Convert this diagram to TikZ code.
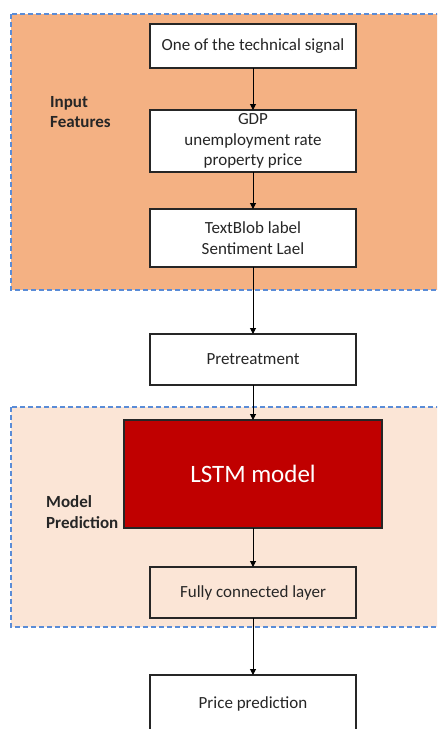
\documentclass[tikz,border=0pt]{standalone}
\usepackage{fontspec}
\setmainfont{Carlito}
\usepackage{xcolor}
\usepackage{tikz}
\usetikzlibrary{positioning,arrows.meta}
\definecolor{inputfill}{RGB}{244,177,131}
\definecolor{modelfill}{RGB}{251,229,214}
\definecolor{lstmred}{RGB}{192,0,0}
\definecolor{dashblue}{RGB}{90,140,215}
\definecolor{boxline}{RGB}{38,38,38}
\tikzset{
  stage/.style={rectangle, draw=boxline, line width=1.2pt, fill=white, minimum width=206pt,
                inner sep=0pt, outer sep=0pt, align=center, text=boxline,
                font=\fontsize{17}{20.5}\selectfont},
  lstmbox/.style={stage, fill=lstmred, text=white, minimum width=258pt, minimum height=108pt,
                  font=\fontsize{25}{30}\selectfont},
  region/.style={draw=dashblue, line width=1.3pt, dash pattern=on 5pt off 3pt},
  grouplbl/.style={font=\fontsize{17}{20.5}\selectfont\bfseries, text=boxline, align=left,
                   anchor=west, inner sep=0pt},
  flow/.style={-{Triangle[length=6pt,width=6pt]}, line width=1pt, black}
}

\begin{document}
\begin{tikzpicture}[x=1pt, y=-1pt]
        \clip (0,0) rectangle (437,729);
        % the two dashed groups
        \fill[inputfill] (11,14) rectangle (450,290);
        \draw[region] (11,14) rectangle (450,290);
        \fill[modelfill] (11,407) rectangle (450,627);
        \draw[region] (11,407) rectangle (450,627);
        \node[grouplbl] (inlbl) at (50,112) {Input\\Features};
        \node[grouplbl] (mdlbl) at (46,512) {Model\\Prediction};
        % pipeline
        \node[stage, minimum height=44pt, anchor=north] (sig) at (253,24) {One of the technical signal};
        \node[stage, minimum height=62pt, below=42pt of sig] (macro) {GDP\\unemployment rate\\property price};
        \node[stage, minimum height=58pt, below=37pt of macro] (senti) {TextBlob label\\Sentiment Lael};
        \node[stage, minimum height=51pt, below=67pt of senti] (pre) {Pretreatment};
        \node[lstmbox, below=35pt of pre] (lstm) {LSTM model};
        \node[stage, fill=modelfill, minimum height=51pt, below=39pt of lstm] (fc) {Fully connected layer};
        \node[stage, minimum height=58pt, below=57pt of fc] (price) {Price prediction};
        \draw[flow] (sig) -- (macro); \draw[flow] (macro) -- (senti);
        \draw[flow] (senti) -- (pre); \draw[flow] (pre) -- (lstm);
        \draw[flow] (lstm) -- (fc); \draw[flow] (fc) -- (price);
      \end{tikzpicture}
\end{document}
